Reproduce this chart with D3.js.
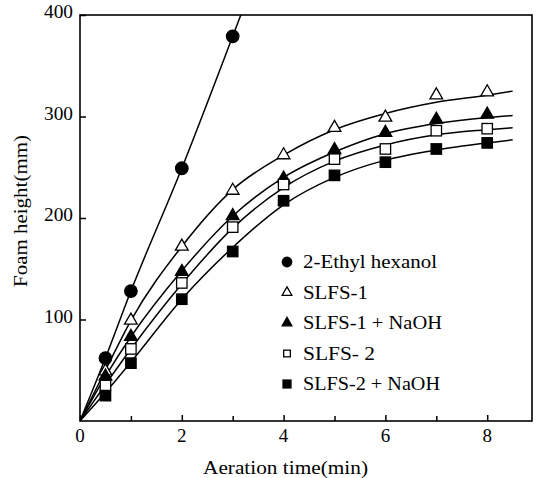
<!DOCTYPE html>
<html>
<head>
<meta charset="utf-8">
<script src="https://cdn.jsdelivr.net/npm/d3@7"></script>
<style>
  body { margin: 0; background: #fff; }
</style>
</head>
<body>
<svg id="chart" width="538" height="478"></svg>
<script>
// measured points (min, mm)
const times = [0.5, 1, 2, 3, 4, 5, 6, 7, 8];
const ethylTimes = [0.5, 1, 2, 3];
const ethylHexanol = [62, 128, 249, 379];
const slfs1 = [49, 99, 172, 227, 262, 289, 299, 321, 324];
const slfs1NaOH = [44, 83, 147, 202, 239, 267, 284, 297, 302];
const slfs2 = [35, 71, 136, 191, 233, 258, 268, 286, 288];
const slfs2NaOH = [25, 57, 120, 167, 217, 242, 255, 268, 274];

// smooth curves as drawn in the figure
const curveTimes = [0, 0.5, 1, 2, 3, 4, 5, 6, 7, 8, 8.5];
const ethylCurveTimes = [0, 0.5, 1, 2, 3, 3.25];
const ethylCurve = [0, 62, 128, 249, 379, 412];
const slfs1Curve = [0, 50, 99, 172, 228, 262, 287, 303, 314, 321, 325];
const slfs1NaOHCurve = [0, 44, 83, 148, 202, 240, 265, 283, 293, 299, 301];
const slfs2Curve = [0, 36, 71, 135, 190, 230, 256, 272, 282, 287, 289];
const slfs2NaOHCurve = [0, 28, 58, 120, 171, 213, 240, 257, 267, 274, 277];

const xTicks = [0, 2, 4, 6, 8];
const xMinorTicks = [1, 3, 5, 7];
const yTicks = [100, 200, 300, 400];

const legendLabels = ["2-Ethyl hexanol", "SLFS-1", "SLFS-1 + NaOH", "SLFS- 2", "SLFS-2 + NaOH"];
const legendWidths = [134, 65, 139, 72, 137];

const font = "'Liberation Serif', 'Times New Roman', Tinos, 'DejaVu Serif', serif";

const svg = d3.select("#chart");
const x = d3.scaleLinear().domain([0, 8.88]).range([80, 532]);
const y = d3.scaleLinear().domain([0, 400]).range([421, 15]);

svg.append("clipPath").attr("id", "plot")
  .append("rect")
  .attr("x", x(0)).attr("y", y(400))
  .attr("width", x(8.88) - x(0)).attr("height", y(0) - y(400));

// frame
svg.append("rect")
  .attr("x", x(0)).attr("y", y(400))
  .attr("width", x(8.88) - x(0)).attr("height", y(0) - y(400))
  .attr("fill", "none").attr("stroke", "#000").attr("stroke-width", 1.6);

// ticks pointing inward
svg.append("g").attr("transform", `translate(0,${y(0)})`)
  .call(d3.axisBottom(x).tickValues(xTicks).tickSize(-6).tickFormat(""))
  .call(g => g.select(".domain").remove())
  .call(g => g.selectAll("line").attr("stroke-width", 1.5));
svg.append("g").attr("transform", `translate(0,${y(0)})`)
  .call(d3.axisBottom(x).tickValues(xMinorTicks).tickSize(-5).tickFormat(""))
  .call(g => g.select(".domain").remove())
  .call(g => g.selectAll("line").attr("stroke-width", 1.5));
svg.append("g").attr("transform", `translate(${x(0)},0)`)
  .call(d3.axisLeft(y).tickValues(yTicks).tickSize(-6).tickFormat(""))
  .call(g => g.select(".domain").remove())
  .call(g => g.selectAll("line").attr("stroke-width", 1.5));

// tick labels
svg.append("g").selectAll("text").data(xTicks)
  .join("text")
  .attr("font-family", font)
  .attr("x", d => x(d)).attr("y", y(0) + 21)
  .attr("text-anchor", "middle").attr("font-size", 19)
  .text(d => d);
svg.append("g").selectAll("text").data(yTicks)
  .join("text")
  .attr("font-family", font)
  .attr("x", x(0) - 7).attr("y", d => y(d) + 3)
  .attr("text-anchor", "end").attr("font-size", 19)
  .attr("textLength", 29).attr("lengthAdjust", "spacingAndGlyphs")
  .text(d => d);

// axis titles
svg.append("text")
  .attr("font-family", font)
  .attr("x", 203).attr("y", 474)
  .attr("font-size", 19)
  .attr("textLength", 165).attr("lengthAdjust", "spacingAndGlyphs")
  .text("Aeration time(min)");
svg.append("text")
  .attr("font-family", font)
  .attr("transform", "translate(27,287) rotate(-90)")
  .attr("font-size", 19)
  .attr("textLength", 152).attr("lengthAdjust", "spacingAndGlyphs")
  .text("Foam height(mm)");

// curves
const line = d3.line().x(d => x(d[0])).y(d => y(d[1])).curve(d3.curveMonotoneX);
const curves = [
  d3.zip(ethylCurveTimes, ethylCurve),
  d3.zip(curveTimes, slfs1Curve),
  d3.zip(curveTimes, slfs1NaOHCurve),
  d3.zip(curveTimes, slfs2Curve),
  d3.zip(curveTimes, slfs2NaOHCurve)
];
svg.append("g").attr("clip-path", "url(#plot)")
  .selectAll("path").data(curves).join("path")
  .attr("d", line)
  .attr("fill", "none").attr("stroke", "#000").attr("stroke-width", 1.5);

// markers
const symTri = d3.symbol().type(d3.symbolTriangle);
const series = [
  { t: ethylTimes, v: ethylHexanol, shape: "circle", fill: "#000" },
  { t: times, v: slfs1, shape: "triangle", fill: "#fff" },
  { t: times, v: slfs1NaOH, shape: "triangle", fill: "#000" },
  { t: times, v: slfs2, shape: "square", fill: "#fff" },
  { t: times, v: slfs2NaOH, shape: "square", fill: "#000" }
];

function drawMarker(g, shape, fill, size) {
  if (shape === "circle") {
    g.append("circle").attr("r", size / 2).attr("fill", fill).attr("stroke", "#000").attr("stroke-width", 1.3);
  } else if (shape === "triangle") {
    g.append("path").attr("d", symTri.size(size * size * 0.45)())
      .attr("fill", fill).attr("stroke", "#000").attr("stroke-width", 1.3);
  } else {
    g.append("rect").attr("x", -size / 2.4).attr("y", -size / 2.4)
      .attr("width", size / 1.2).attr("height", size / 1.2)
      .attr("fill", fill).attr("stroke", "#000").attr("stroke-width", 1.3);
  }
}

series.forEach(s => {
  d3.zip(s.t, s.v).forEach(p => {
    const g = svg.append("g").attr("transform", `translate(${x(p[0])},${y(p[1])})`);
    drawMarker(g, s.shape, s.fill, 12.5);
  });
});

// legend
const legend = svg.append("g").attr("transform", "translate(287,262)");
legendLabels.forEach((label, i) => {
  const row = legend.append("g").attr("transform", `translate(0,${i * 30.5})`);
  drawMarker(row.append("g"), series[i].shape, series[i].fill, i === 3 ? 8 : 9.5);
  row.append("text").attr("x", 16).attr("y", 6)
    .attr("font-family", font)
    .attr("font-size", 19)
    .attr("textLength", legendWidths[i]).attr("lengthAdjust", "spacingAndGlyphs")
    .text(label);
});
</script>
</body>
</html>
